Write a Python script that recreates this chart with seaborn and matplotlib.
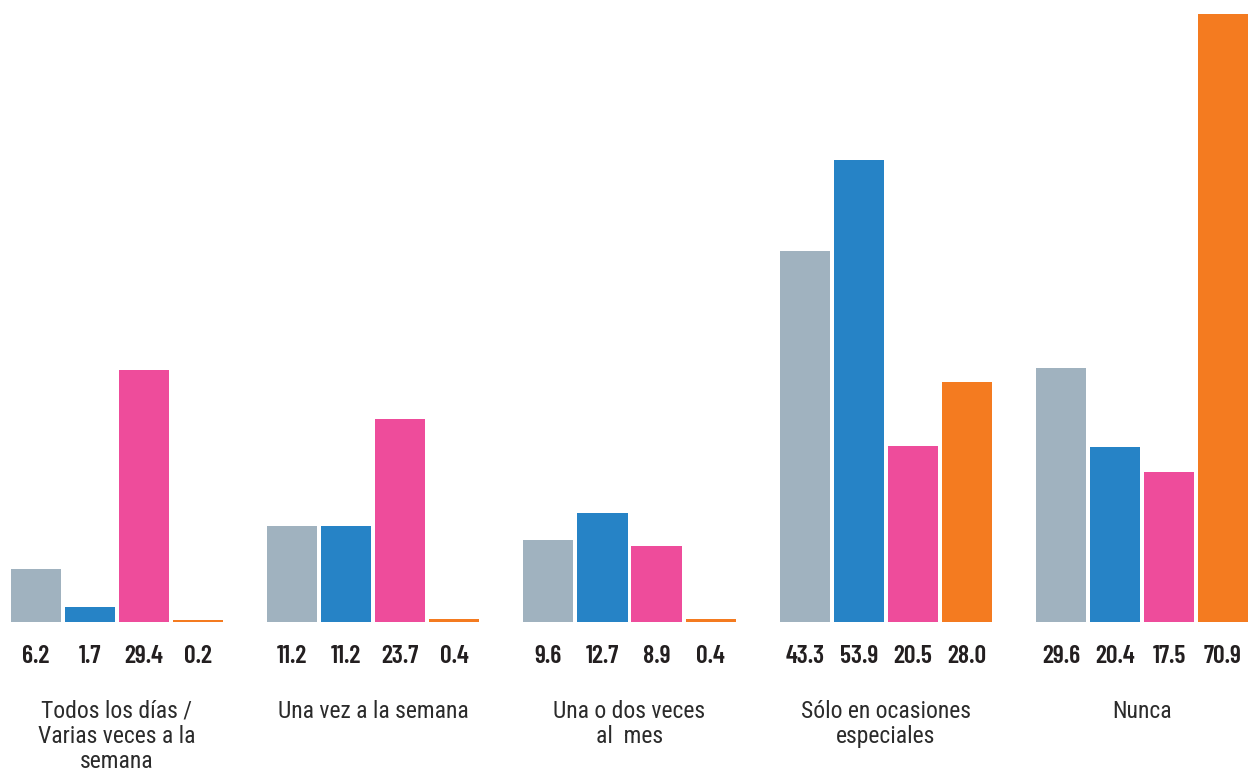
import matplotlib
matplotlib.use("Agg")
import matplotlib.pyplot as plt
import matplotlib.transforms as mtransforms
import pandas as pd
import seaborn as sns

categories = [
    "Todos los días /\nVarias veces a la\nsemana",
    "Una vez a la semana",
    "Una o dos veces\nal  mes",
    "Sólo en ocasiones\nespeciales",
    "Nunca",
]
series = ["Serie 1", "Serie 2", "Serie 3", "Serie 4"]
serie_1 = [6.2, 11.2, 9.6, 43.3, 29.6]
serie_2 = [1.7, 11.2, 12.7, 53.9, 20.4]
serie_3 = [29.4, 23.7, 8.9, 20.5, 17.5]
serie_4 = [0.2, 0.4, 0.4, 28.0, 70.9]

colors = ["#A0B2BF", "#2683C6", "#EE4C9B", "#F47B20"]

rows = []
for name, vals in zip(series, [serie_1, serie_2, serie_3, serie_4]):
    for cat, v in zip(categories, vals):
        rows.append({"cat": cat, "serie": name, "valor": v})
df = pd.DataFrame(rows)

sns.set_theme(style="white")
plt.rcParams["font.family"] = ["Roboto Condensed", "DejaVu Sans"]

fig = plt.figure(figsize=(12.51, 7.74), dpi=100)
ax = fig.add_axes([0, (774 - 622) / 774, 1, 622 / 774])

sns.barplot(data=df, x="cat", y="valor", hue="serie", order=categories,
            hue_order=series, palette=colors, width=0.843, gap=0.074,
            saturation=1, legend=False, linewidth=0, ax=ax)

ax.set_xlim(-117 / 256.25, (1251 - 117) / 256.25)
ax.set_ylim(0, 70.9 + 14 / 8.576)
for s in ax.spines.values():
    s.set_visible(False)
ax.set_yticks([])
ax.set_xlabel("")
ax.set_ylabel("")
ax.tick_params(axis="x", length=0, pad=56)
for lbl in ax.get_xticklabels():
    lbl.set_fontsize(17)
    lbl.set_color("#2b2b2b")
    lbl.set_linespacing(1.13)
    lbl.set_verticalalignment("top")

trans = mtransforms.blended_transform_factory(ax.transData, ax.transAxes)
for container in ax.containers:
    for bar, v in zip(container, container.datavalues):
        ax.text(bar.get_x() + bar.get_width() / 2, -0.056, f"{v:.1f}",
                transform=trans, ha="center", va="center", fontsize=18.5,
                family=["Barlow Condensed", "DejaVu Sans"],
                fontweight="semibold", color="#231F20")

fig.savefig("out.png", dpi=100)
